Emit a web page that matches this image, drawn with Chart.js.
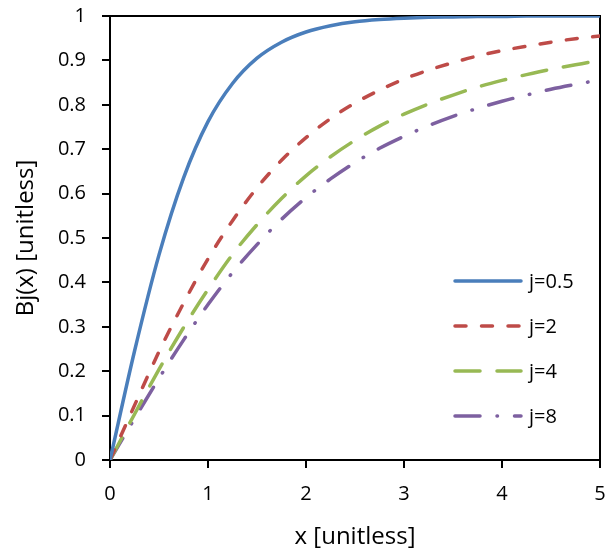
<!DOCTYPE html>
<html>
<head>
<meta charset="utf-8">
<title>Brillouin function</title>
<script src="https://cdn.jsdelivr.net/npm/chart.js@4/dist/chart.umd.min.js"></script>
<style>
  body { margin: 0; background: #fff; }
  #wrap { width: 605px; height: 557px; }
</style>
</head>
<body>
<div id="wrap"><canvas id="myChart" width="605" height="557"></canvas></div>
<script>
// x positions the curves were read at
const xValues = [0, 0.25, 0.5, 0.75, 1, 1.25, 1.5, 1.75, 2, 2.25, 2.5, 2.75, 3, 3.25, 3.5, 3.75, 4, 4.25, 4.5, 4.75, 5];

// curve values
const bj05 = [0, 0.245, 0.462, 0.635, 0.762, 0.848, 0.905, 0.941, 0.964, 0.978, 0.987, 0.992, 0.995, 0.997, 0.998, 0.999, 0.999, 1, 1, 1, 1];
const bj2  = [0, 0.123, 0.244, 0.353, 0.453, 0.539, 0.613, 0.675, 0.726, 0.769, 0.804, 0.833, 0.858, 0.878, 0.895, 0.910, 0.922, 0.932, 0.941, 0.949, 0.955];
const bj4  = [0, 0.103, 0.204, 0.298, 0.384, 0.463, 0.530, 0.589, 0.640, 0.683, 0.720, 0.752, 0.779, 0.802, 0.822, 0.840, 0.855, 0.868, 0.880, 0.890, 0.900];
const bj8  = [0, 0.093, 0.184, 0.270, 0.350, 0.422, 0.485, 0.542, 0.591, 0.633, 0.670, 0.702, 0.729, 0.753, 0.774, 0.792, 0.808, 0.822, 0.835, 0.846, 0.856];

const seriesLabels = ['j=0.5', 'j=2', 'j=4', 'j=8'];
const xTickLabels = ['0', '1', '2', '3', '4', '5'];
const yTickLabels = ['0', '0.1', '0.2', '0.3', '0.4', '0.5', '0.6', '0.7', '0.8', '0.9', '1'];

const FONT = '"Open Sans", "Noto Sans", sans-serif';

function toPoints(ys) {
    return xValues.map((x, i) => ({ x: x, y: ys[i] }));
}

// plot box (top and right edges too), drawn under the lines
const boxPlugin = {
    id: 'plotBox',
    beforeDatasetsDraw(chart) {
        const a = chart.chartArea;
        const ctx = chart.ctx;
        ctx.save();
        ctx.strokeStyle = '#000';
        ctx.lineWidth = 2;
        ctx.strokeRect(a.left, a.top, a.right - a.left, a.bottom - a.top);
        ctx.restore();
    }
};

// legend sits inside the plot, lower right
const legendPlugin = {
    id: 'insideLegend',
    afterDatasetsDraw(chart) {
        const ctx = chart.ctx;
        chart.data.datasets.forEach((ds, i) => {
            const y = 281 + i * 45;
            ctx.save();
            ctx.strokeStyle = ds.borderColor;
            ctx.lineWidth = ds.borderWidth;
            ctx.lineCap = 'round';
            ctx.setLineDash(ds.borderDash || []);
            ctx.beginPath();
            ctx.moveTo(455, y);
            ctx.lineTo(521, y);
            ctx.stroke();
            ctx.setLineDash([]);
            ctx.fillStyle = '#000';
            ctx.font = '20px ' + FONT;
            ctx.textBaseline = 'middle';
            ctx.fillText(ds.label, 529, y + 1);
            ctx.restore();
        });
    }
};

const ctx = document.getElementById('myChart').getContext('2d');
const myChart = new Chart(ctx, {
    type: 'line',
    data: {
        datasets: [
            { label: seriesLabels[0], data: toPoints(bj05), borderColor: '#4A7EBB', borderWidth: 3.5 },
            { label: seriesLabels[1], data: toPoints(bj2), borderColor: '#BE4B48', borderWidth: 3.5, borderDash: [11, 15.5] },
            { label: seriesLabels[2], data: toPoints(bj4), borderColor: '#98B954', borderWidth: 3.5, borderDash: [25, 17] },
            { label: seriesLabels[3], data: toPoints(bj8), borderColor: '#7D60A0', borderWidth: 3.5, borderDash: [25, 17, 0.5, 17] }
        ]
    },
    options: {
        responsive: false,
        animation: false,
        layout: { padding: { top: 16, right: 5, left: 0, bottom: 0 } },
        elements: {
            point: { radius: 0 },
            line: { cubicInterpolationMode: 'monotone', borderCapStyle: 'round', fill: false }
        },
        plugins: {
            legend: { display: false },
            tooltip: { enabled: false }
        },
        scales: {
            x: {
                type: 'linear',
                min: 0,
                max: 5,
                afterFit(s) { s.height = 97; s.paddingLeft = 0; s.paddingRight = 0; },
                ticks: {
                    stepSize: 1,
                    color: '#000',
                    padding: 14,
                    maxRotation: 0,
                    font: { family: FONT, size: 20 },
                    callback: (v, i) => xTickLabels[i]
                },
                grid: { drawOnChartArea: false, drawTicks: true, tickLength: 8, color: '#000', lineWidth: 2 },
                border: { display: true, color: '#000', width: 2 },
                title: {
                    display: true,
                    text: 'x [unitless]',
                    color: '#000',
                    font: { family: FONT, size: 24 },
                    padding: { top: 0, bottom: 5 }
                }
            },
            y: {
                type: 'linear',
                min: 0,
                max: 1,
                afterFit(s) { s.width = 110; s.paddingTop = 0; s.paddingBottom = 0; },
                ticks: {
                    stepSize: 0.1,
                    color: '#000',
                    padding: 16,
                    font: { family: FONT, size: 20 },
                    callback: (v, i) => yTickLabels[i]
                },
                grid: { drawOnChartArea: false, drawTicks: true, tickLength: 8, color: '#000', lineWidth: 2 },
                border: { display: true, color: '#000', width: 2 },
                title: {
                    display: true,
                    text: 'Bj(x) [unitless]',
                    color: '#000',
                    font: { family: FONT, size: 24 },
                    padding: { top: 12, bottom: 0 }
                }
            }
        }
    },
    plugins: [boxPlugin, legendPlugin]
});
</script>
</body>
</html>
